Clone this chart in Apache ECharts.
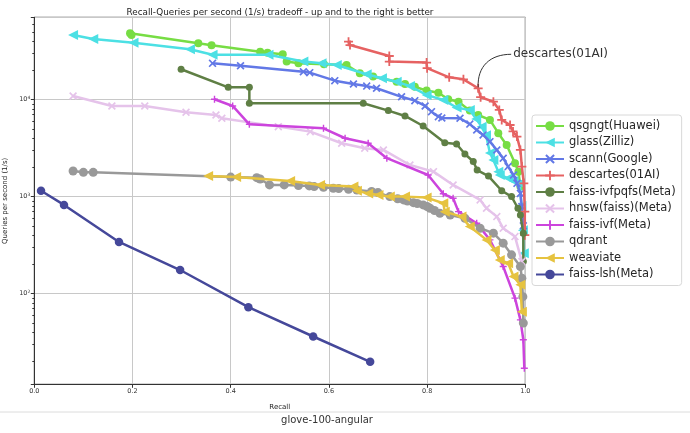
<!DOCTYPE html>
<html><head><meta charset="utf-8">
<script src="https://cdn.jsdelivr.net/npm/echarts@6/dist/echarts.min.js"></script>
<style>html,body{margin:0;padding:0;background:#fff}#c{width:690px;height:433px}</style>
</head><body><div id="c"></div><script>
// ---- data (recall, queries per second) ----
const seriesNames = ['qsgngt(Huawei)','glass(Zilliz)','scann(Google)','descartes(01AI)','faiss-ivfpqfs(Meta)','hnsw(faiss)(Meta)','faiss-ivf(Meta)','qdrant','weaviate','faiss-lsh(Meta)'];
const qsgngt = [[0.195,48400],[0.198,46400],[0.334,38100],[0.361,36400],[0.460,31200],[0.475,30500],[0.506,29400],[0.514,24700],[0.538,23700],[0.59,23200],[0.636,22800],[0.663,18700],[0.690,17300],[0.738,15300],[0.755,14500],[0.775,13600],[0.799,12400],[0.823,11800],[0.843,10100],[0.864,9530],[0.887,7710],[0.904,6950],[0.928,6180],[0.945,4510],[0.962,3410],[0.979,2210],[0.986,1810],[0.990,1270]];
const glass = [[0.079,46400],[0.120,42300],[0.202,38700],[0.317,33100],[0.363,29100],[0.477,29100],[0.548,24700],[0.585,23700],[0.616,22800],[0.677,18300],[0.708,16600],[0.738,15300],[0.765,13800],[0.799,11200],[0.833,9930],[0.860,8300],[0.887,7800],[0.900,6300],[0.911,5270],[0.920,4300],[0.928,2820],[0.935,2390],[0.945,1810],[0.948,1670],[0.965,1550],[0.976,1450],[0.989,1370],[0.992,800],[0.995,450],[0.997,260]];
const scann = [[0.363,23700],[0.420,22400],[0.548,19400],[0.561,19000],[0.612,15700],[0.650,14500],[0.677,13800],[0.697,13100],[0.748,10700],[0.775,9770],[0.796,8610],[0.809,7520],[0.823,6680],[0.830,6480],[0.867,6430],[0.887,5600],[0.901,4870],[0.914,4330],[0.928,3690],[0.942,3030],[0.955,2490],[0.965,2040],[0.976,1670],[0.983,1370],[0.990,1080],[0.993,790],[0.996,500]];
const descartes = [[0.640,39600],[0.643,36600],[0.723,28200],[0.723,24700],[0.799,24100],[0.800,21100],[0.845,17000],[0.874,16200],[0.904,13100],[0.909,10600],[0.935,9530],[0.947,7840],[0.952,6180],[0.969,5480],[0.975,4700],[0.983,4160],[0.990,3030],[0.993,2040],[0.997,1370],[0.999,700],[0.999,400]];
const ivfpqfs = [[0.299,20600],[0.395,13400],[0.438,13400],[0.438,9180],[0.670,9180],[0.721,7710],[0.755,6790],[0.792,5350],[0.836,3600],[0.860,3490],[0.877,2750],[0.894,2300],[0.902,1880],[0.925,1630],[0.952,1150],[0.972,1000],[0.985,759],[0.990,647],[0.996,420],[0.996,214]];
const hnswFaiss = [[0.079,10900],[0.158,8610],[0.225,8610],[0.309,7410],[0.370,6950],[0.382,6430],[0.497,5270],[0.562,4680],[0.626,3550],[0.673,3160],[0.711,3030],[0.765,2120],[0.813,1810],[0.853,1320],[0.908,925],[0.921,759],[0.942,622],[0.955,472],[0.979,387],[0.993,214]];
const faissIvf = [[0.367,10100],[0.404,8610],[0.438,5570],[0.589,5070],[0.633,4000],[0.680,3550],[0.718,2490],[0.802,1670],[0.833,1070],[0.853,962],[0.864,700],[0.901,532],[0.928,358],[0.955,190],[0.979,89.7],[0.990,53.6],[0.996,33.4],[0.998,17.0]];
const qdrant = [[0.079,1840],[0.100,1780],[0.120,1780],[0.400,1590],[0.453,1570],[0.460,1520],[0.479,1320],[0.509,1320],[0.538,1300],[0.56,1290],[0.57,1270],[0.589,1250],[0.609,1220],[0.62,1210],[0.64,1190],[0.657,1170],[0.687,1130],[0.70,1100],[0.724,1000],[0.74,950],[0.752,925],[0.76,900],[0.772,867],[0.78,850],[0.792,821],[0.80,790],[0.806,759],[0.815,720],[0.826,674],[0.847,647],[0.877,598],[0.908,472],[0.935,420],[0.955,331],[0.972,251],[0.990,190],[0.993,144],[0.995,93],[0.996,49.6]];
const weaviate = [[0.354,1630],[0.411,1590],[0.521,1450],[0.582,1320],[0.650,1270],[0.657,1150],[0.680,1080],[0.701,1040],[0.724,1000],[0.755,1000],[0.799,977],[0.833,855],[0.836,700],[0.870,622],[0.887,491],[0.921,358],[0.938,282],[0.948,222],[0.965,206],[0.976,150],[0.990,123],[0.993,65]];
const faissLsh = [[0.0137,1150],[0.0605,821],[0.1725,341],[0.297,175],[0.436,72.4],[0.568,36.1],[0.684,19.8]];
const xTicks = [0, 0.2, 0.4, 0.6, 0.8, 1.0];
const annotated = {name: 'descartes(01AI)', point: [0.904, 13100]};

// ---- styles ----
const FONT = 'DejaVu Sans';
const PLUS = 'path://M4,0L6,0L6,4L10,4L10,6L6,6L6,10L4,10L4,6L0,6L0,4L4,4Z';
const XMARK = 'path://M1.5,0L5,3.5L8.5,0L10,1.5L6.5,5L10,8.5L8.5,10L5,6.5L1.5,10L0,8.5L3.5,5L0,1.5Z';
const styles = [
  {data: qsgngt, color: '#77dd44', symbol: 'circle', size: 8, rot: 0},
  {data: glass, color: '#4ce0e4', symbol: 'triangle', size: 10, rot: 90},
  {data: scann, color: '#6278e6', symbol: XMARK, size: 8, rot: 0},
  {data: descartes, color: '#e66262', symbol: PLUS, size: 9, rot: 0},
  {data: ivfpqfs, color: '#5f7f45', symbol: 'circle', size: 7, rot: 0},
  {data: hnswFaiss, color: '#e5c3ea', symbol: XMARK, size: 8, rot: 0},
  {data: faissIvf, color: '#cc44dd', symbol: PLUS, size: 7, rot: 0},
  {data: qdrant, color: '#999999', symbol: 'circle', size: 9, rot: 0},
  {data: weaviate, color: '#e6c340', symbol: 'triangle', size: 10, rot: 90},
  {data: faissLsh, color: '#45489a', symbol: 'circle', size: 8.5, rot: 0}
];

const chart = echarts.init(document.getElementById('c'), null, {renderer: 'canvas'});
const staticGraphics = [
  {type: 'line', shape: {x1: 0, y1: 412, x2: 690, y2: 412}, style: {stroke: '#dcdcdc', lineWidth: 1}, silent: true},
  {type: 'text', x: 327, y: 420, style: {text: 'glove-100-angular', fontFamily: FONT, fontSize: 10, fill: '#333', align: 'center', verticalAlign: 'middle'}, silent: true}
];
const option = {
  animation: false,
  backgroundColor: '#fff',
  textStyle: {fontFamily: FONT},
  title: {
    text: 'Recall-Queries per second (1/s) tradeoff - up and to the right is better',
    left: 275, top: 3, textAlign: 'center',
    textStyle: {fontFamily: FONT, fontSize: 8.8, fontWeight: 'normal', color: '#222'}
  },
  grid: {left: 34.3, right: 164.7, top: 17.3, bottom: 48.7, show: true, borderColor: '#333', borderWidth: 1, containLabel: false, outerBoundsMode: 'none'},
  legend: {
    orient: 'vertical', left: 532, top: 115,
    itemWidth: 28, itemHeight: 12, itemGap: 4.5,
    padding: [5, 6, 5, 3],
    borderColor: '#d8d8d8', borderWidth: 1, borderRadius: 3, backgroundColor: '#fff',
    textStyle: {fontFamily: FONT, fontSize: 11.5, color: '#262626'},
    data: seriesNames
  },
  xAxis: {
    type: 'value', min: xTicks[0], max: xTicks[xTicks.length - 1], interval: 0.2,
    name: 'Recall', nameLocation: 'middle', nameGap: 19,
    nameTextStyle: {fontFamily: FONT, fontSize: 7, color: '#222'},
    axisLine: {show: true, lineStyle: {color: '#333', width: 1}},
    axisTick: {show: true, inside: false, length: 3.5, lineStyle: {color: '#333'}},
    axisLabel: {fontFamily: FONT, fontSize: 6.5, color: '#333', margin: 4, formatter: v => v.toFixed(1)},
    splitLine: {show: true, lineStyle: {color: '#c8c8c8', width: 1}}
  },
  yAxis: {
    type: 'log', logBase: 10, min: 11.6, max: 70700,
    name: 'Queries per second (1/s)', nameLocation: 'middle', nameGap: 24,
    nameTextStyle: {fontFamily: FONT, fontSize: 7, color: '#222'},
    axisLine: {show: true, lineStyle: {color: '#333', width: 1}},
    axisTick: {show: true, inside: false, length: 3.5, lineStyle: {color: '#333'}},
    minorTick: {show: true, splitNumber: 9, length: 2, lineStyle: {color: '#333'}},
    axisLabel: {
      showMinLabel: false, showMaxLabel: false, margin: 4,
      fontFamily: FONT, fontSize: 6.5, color: '#333',
      formatter: v => {
        const e = Math.log10(v);
        if (Math.abs(e - Math.round(e)) > 1e-6) return '';
        return '10{sup|' + Math.round(e) + '}';
      },
      rich: {sup: {fontSize: 4.5, verticalAlign: 'top', padding: [0, 0, 4, 0], fontFamily: FONT, color: '#333'}}
    },
    splitLine: {show: true, lineStyle: {color: '#c8c8c8', width: 1}}
  },
  series: styles.map((s, i) => ({
    name: seriesNames[i], type: 'line', data: s.data,
    symbol: s.symbol, symbolSize: s.size, symbolRotate: s.rot, showAllSymbol: true,
    lineStyle: {color: s.color, width: 2.5},
    itemStyle: {color: s.color, borderWidth: 0},
    emphasis: {disabled: true}, z: 2 + i
  })),
  graphic: staticGraphics
};
chart.setOption(option);

// annotation placed relative to the annotated data point
const p = chart.convertToPixel({seriesIndex: 3}, annotated.point);
chart.setOption({graphic: staticGraphics.concat([
  {type: 'bezierCurve', shape: {x1: p[0] + 33, y1: p[1] - 34, cpx1: p[0] + 12, cpy1: p[1] - 34, cpx2: p[0] - 1, cpy2: p[1] - 22, x2: p[0], y2: p[1] - 1}, style: {stroke: '#333', lineWidth: 1, fill: null}, silent: true, z: 100},
  {type: 'text', x: p[0] + 35, y: p[1] - 34, style: {text: annotated.name, fontFamily: FONT, fontSize: 12, fill: '#333', verticalAlign: 'middle'}, silent: true, z: 100}
])});
</script></body></html>
